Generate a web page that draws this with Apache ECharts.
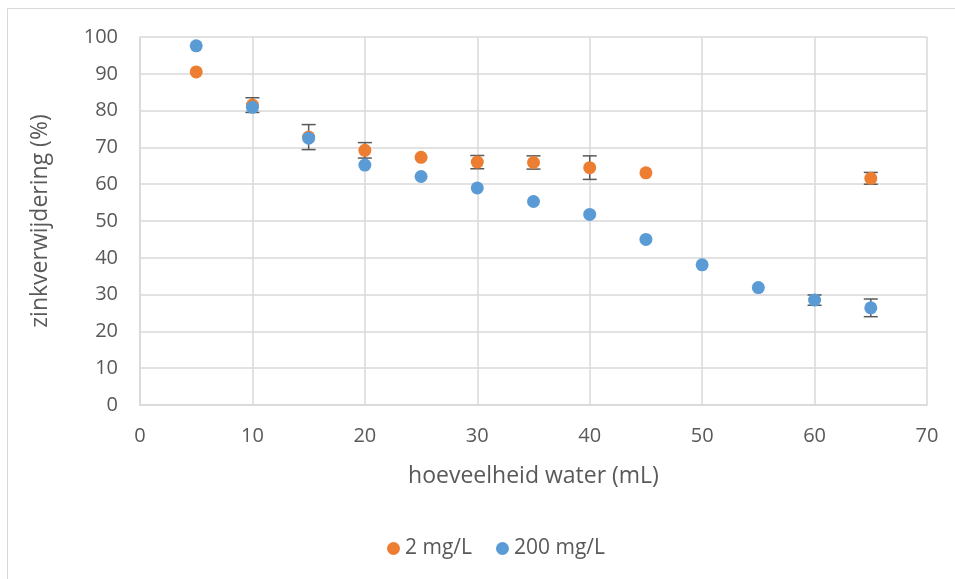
<!DOCTYPE html>
<html>
<head>
<meta charset="utf-8">
<script src="https://cdn.jsdelivr.net/npm/echarts@6/dist/echarts.min.js"></script>
<style>
  html, body { margin: 0; padding: 0; background: #fff; }
  #chart { width: 955px; height: 579px; }
</style>
</head>
<body>
<div id="chart"></div>
<script>
// Zinc removal (%) versus amount of water (mL), two zinc concentrations
const waterVolumes2 = [5, 10, 15, 20, 25, 30, 35, 40, 45, 65];
const removal2 = [90.5, 81.5, 72.8, 69.2, 67.3, 66.0, 65.9, 64.5, 63.1, 61.6];
const error2 = [0, 2.0, 3.4, 2.1, 0, 1.8, 1.8, 3.2, 0, 1.6];

const waterVolumes200 = [5, 10, 15, 20, 25, 30, 35, 40, 45, 50, 55, 60, 65];
const removal200 = [97.6, 80.9, 72.5, 65.2, 62.1, 59.0, 55.3, 51.8, 45.0, 38.1, 31.9, 28.5, 26.4];
const error200 = [0, 0, 0, 0, 0, 0, 0, 0, 0, 0, 0, 1.4, 2.4];

const seriesNames = ['2 mg/L', '200 mg/L'];
const xTicks = { min: 0, max: 70, interval: 10 };
const yTicks = { min: 0, max: 100, interval: 10 };

const orange = '#ED7D31';
const blue = '#5B9BD5';
const textGrey = '#595959';
const gridGrey = '#D9D9D9';
const fontFamily = '"Open Sans", "Noto Sans", sans-serif';

function points(xs, ys) {
  return xs.map((x, i) => [x, ys[i]]);
}
function errorRanges(xs, ys, es) {
  return xs.map((x, i) => [x, ys[i] - es[i], ys[i] + es[i]]).filter((d, i) => es[i] > 0);
}

function renderErrorBar(params, api) {
  const x = api.value(0);
  const lo = api.coord([x, api.value(1)]);
  const hi = api.coord([x, api.value(2)]);
  const half = 7;
  const style = { stroke: '#595959', lineWidth: 1.5 };
  return {
    type: 'group',
    children: [
      { type: 'line', shape: { x1: lo[0], y1: lo[1], x2: hi[0], y2: hi[1] }, style },
      { type: 'line', shape: { x1: lo[0] - half, y1: lo[1], x2: lo[0] + half, y2: lo[1] }, style },
      { type: 'line', shape: { x1: hi[0] - half, y1: hi[1], x2: hi[0] + half, y2: hi[1] }, style }
    ]
  };
}

const chart = echarts.init(document.getElementById('chart'), null, { renderer: 'canvas' });

chart.setOption({
  backgroundColor: '#fff',
  animation: false,
  textStyle: { fontFamily },
  graphic: [{
    type: 'rect',
    shape: { x: 7.5, y: 8.5, width: 960, height: 600 },
    style: { fill: 'none', stroke: '#D9D9D9', lineWidth: 1 },
    silent: true
  }],
  grid: { left: 140, right: 28, top: 37, bottom: 174, containLabel: false },
  legend: {
    data: seriesNames,
    left: 382,
    top: 533,
    itemWidth: 13,
    itemHeight: 13,
    itemGap: 24,
    icon: 'circle',
    textStyle: { color: textGrey, fontSize: 21, fontFamily }
  },
  xAxis: {
    type: 'value',
    min: xTicks.min, max: xTicks.max, interval: xTicks.interval,
    name: 'hoeveelheid water (mL)',
    nameLocation: 'middle',
    nameGap: 60,
    nameTextStyle: { color: textGrey, fontSize: 23, fontFamily },
    axisLine: { show: true, lineStyle: { color: gridGrey, width: 1.5 } },
    axisTick: { show: false },
    axisLabel: { color: textGrey, fontSize: 20, margin: 21, fontFamily },
    splitLine: { show: true, lineStyle: { color: gridGrey, width: 1.5 } }
  },
  yAxis: {
    type: 'value',
    min: yTicks.min, max: yTicks.max, interval: yTicks.interval,
    name: 'zinkverwijdering (%)',
    nameLocation: 'middle',
    nameGap: 88,
    nameTextStyle: { color: textGrey, fontSize: 23, fontFamily },
    axisLine: { show: true, lineStyle: { color: gridGrey, width: 1.5 } },
    axisTick: { show: false },
    axisLabel: { color: textGrey, fontSize: 20, margin: 22, fontFamily },
    splitLine: { show: true, lineStyle: { color: gridGrey, width: 1.5 } }
  },
  series: [
    {
      name: seriesNames[0],
      type: 'scatter',
      symbolSize: 13,
      itemStyle: { color: orange, opacity: 1 },
      data: points(waterVolumes2, removal2),
      z: 3
    },
    {
      name: seriesNames[0] + ' fout',
      type: 'custom',
      renderItem: renderErrorBar,
      data: errorRanges(waterVolumes2, removal2, error2),
      encode: { x: 0, y: [1, 2] },
      z: 2,
      silent: true
    },
    {
      name: seriesNames[1],
      type: 'scatter',
      symbolSize: 13,
      itemStyle: { color: blue, opacity: 1 },
      data: points(waterVolumes200, removal200),
      z: 5
    },
    {
      name: seriesNames[1] + ' fout',
      type: 'custom',
      renderItem: renderErrorBar,
      data: errorRanges(waterVolumes200, removal200, error200),
      encode: { x: 0, y: [1, 2] },
      z: 4,
      silent: true
    }
  ]
});
</script>
</body>
</html>
